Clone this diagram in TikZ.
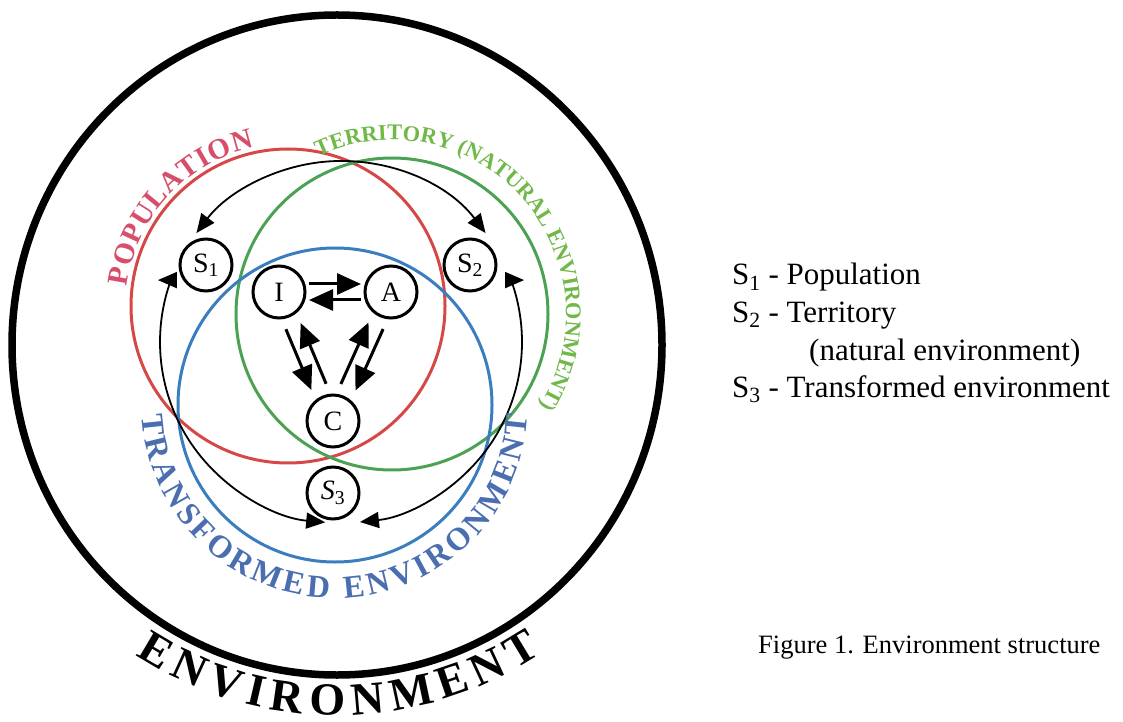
\documentclass[tikz,border=0pt]{standalone}
\usepackage{fontspec}
\setmainfont{Liberation Serif}
\usepackage{tikz}
\usetikzlibrary{arrows.meta,%
                calc,decorations.text}

\definecolor{popred}{RGB}{214,72,72}
\definecolor{poptext}{RGB}{214,78,106}
\definecolor{terrgreen}{RGB}{76,162,84}
\definecolor{terrtext}{RGB}{112,184,72}
\definecolor{transblue}{RGB}{58,126,190}
\definecolor{transtext}{RGB}{74,110,176}

\newcommand{\popfont}{\fontsize{29}{29}\selectfont\bfseries}
\newcommand{\terrfont}{\fontsize{22.4}{22.4}\selectfont\bfseries}
\newcommand{\transfont}{\fontsize{32}{32}\selectfont\bfseries}
\newcommand{\envfont}{\fontsize{46}{46}\selectfont\bfseries}

\begin{document}
\begin{tikzpicture}[x=1pt,y=1pt,
  sysnode/.style={circle,draw,fill=white,line width=3pt,minimum size=52pt,inner sep=0pt,font=\rmfamily\fontsize{28}{28}\selectfont},
  flow/.style={line width=3pt,-{Triangle[length=24pt,width=21pt]}},
  ring/.style={line width=1.8pt,{Triangle[length=19pt,width=16pt]}-{Triangle[length=19pt,width=16pt]}},
  legtext/.style={anchor=base west,inner sep=0pt,font=\rmfamily\fontsize{31}{37}\selectfont},
  curved/.style={decorate,decoration={text along path,text align=fit to path,#1}}]
\useasboundingbox (0,0) rectangle (1123,721);

\coordinate (envc) at (337,376);
\coordinate (popc) at (288,415);
\coordinate (terrc) at (392,407);
\coordinate (transc) at (335,316);
\coordinate (ringc) at (341,379);

\draw[line width=7.5pt] (envc) circle[x radius=325,y radius=330];
\draw[popred,line width=3pt] (popc) circle[radius=157];
\draw[terrgreen,line width=3pt] (terrc) circle[radius=156];
\draw[transblue,line width=3pt] (transc) circle[radius=157];

\draw[ring] ([shift={(37:181)}]ringc) arc[start angle=37,end angle=143,radius=181];
\draw[ring] ([shift={(160:181)},xshift=-13]ringc) -- ([shift={(160:181)}]ringc)
  arc[start angle=160,end angle=265,radius=181];
\draw[ring] ([shift={(20:181)},xshift=13]ringc) -- ([shift={(20:181)}]ringc)
  arc[start angle=20,end angle=-84,radius=181];

\node[sysnode] (S1) at (206,456) {S\textsubscript{1}};
\node[sysnode] (S2) at (470,456) {S\textsubscript{2}};
\node[sysnode] (S3) at (333,228) {\textit{S}\textsubscript{3}};
\node[sysnode] (I) at (279,429) {I};
\node[sysnode] (A) at (391,429) {A};
\node[sysnode] (C) at (333,300) {C};

\draw[flow,shorten <=30pt,shorten >=30pt] ($(I)!8pt!90:(A)$) -- ($(A)!8pt!-90:(I)$);
\draw[flow,shorten <=30pt,shorten >=30pt] ($(A)!8pt!90:(I)$) -- ($(I)!8pt!-90:(A)$);
\draw[flow,shorten <=37pt,shorten >=37pt] ($(I)!8pt!-90:(C)$) -- ($(C)!8pt!90:(I)$);
\draw[flow,shorten <=37pt,shorten >=37pt] ($(C)!8pt!-90:(I)$) -- ($(I)!8pt!90:(C)$);
\draw[flow,shorten <=37pt,shorten >=37pt] ($(C)!8pt!90:(A)$) -- ($(A)!8pt!-90:(C)$);
\draw[flow,shorten <=37pt,shorten >=37pt] ($(A)!8pt!90:(C)$) -- ($(C)!8pt!-90:(A)$);

\path[curved={text={|\popfont|POPULATION},text color=poptext}]
  ([shift={(173:162)}]popc) arc[start angle=173,end angle=102,radius=162];
\path[curved={text={|\terrfont|TERRITORY (NATURAL ENVIRONMENT)},text color=terrtext}]
  ([shift={(115:174)}]terrc) arc[start angle=115,end angle=-32,radius=174];
\path[curved={text={|\transfont|TRANSFORMED ENVIRONMENT},text color=transtext}]
  ([shift={(183:193)}]transc) arc[start angle=183,end angle=357,radius=193];
\path[curved={text={|\envfont|ENVIRONMENT}}]
  ([shift={(237:370)}]envc) arc[start angle=237,end angle=303.5,radius=370];

\node[legtext] (leg1) at (732,436) {S\textsubscript{1} - Population};
\node[legtext] (leg2) at (732,399) {S\textsubscript{2} - Territory};
\node[legtext] (leg2b) at (809,361) {(natural environment)};
\node[legtext] (leg3) at (732,324) {S\textsubscript{3} - Transformed environment};
\node[anchor=base west,inner sep=0pt,font=\rmfamily\fontsize{26.5}{32}\selectfont] (caption) at (758,68) {Figure 1. Environment structure};
\end{tikzpicture}
\end{document}
